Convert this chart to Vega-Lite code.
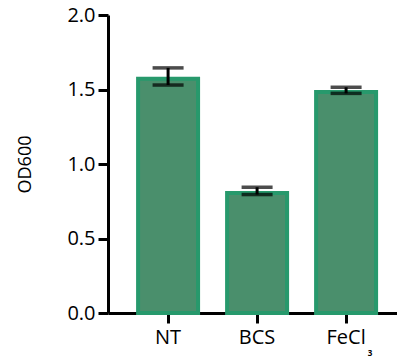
{
  "$schema": "https://vega.github.io/schema/vega-lite/v6.json",
  "width": 289,
  "height": 298,
  "autosize": "none",
  "padding": {"left": 108, "top": 15, "right": 0, "bottom": 47},
  "background": "white",
  "config": {
    "view": {"stroke": null},
    "font": "Open Sans"
  },
  "data": {
    "values": [
      {"group": "NT", "od600": 1.572, "low": 1.53, "high": 1.645},
      {"group": "BCS", "od600": 0.806, "low": 0.795, "high": 0.844},
      {"group": "FeCl3", "od600": 1.484, "low": 1.474, "high": 1.515}
    ]
  },
  "encoding": {
    "x": {
      "field": "group",
      "type": "nominal",
      "sort": ["NT", "BCS", "FeCl3"],
      "scale": {"paddingInner": 0.326, "paddingOuter": 0.2865, "align": 0.59},
      "axis": {
        "title": null,
        "labelAngle": 0,
        "labelExpr": "datum.value == 'FeCl3' ? 'FeCl\u00a0' : datum.value",
        "labelFont": "Open Sans",
        "labelFontSize": 20,
        "labelColor": "black",
        "labelPadding": 4,
        "domainColor": "black",
        "domainWidth": 3,
        "tickColor": "black",
        "tickWidth": 3,
        "tickSize": 10
      }
    }
  },
  "layer": [
    {
      "mark": {"type": "bar", "fill": "#4a8f6c", "stroke": "#27996c", "strokeWidth": 4},
      "encoding": {
        "y": {
          "field": "od600",
          "type": "quantitative",
          "scale": {"domain": [0, 2]},
          "axis": {
            "title": "OD600",
            "titleFont": "Open Sans",
            "titleFontSize": 18,
            "titleFontWeight": "normal",
            "titleColor": "black",
            "titlePadding": 32,
            "values": [0, 0.5, 1, 1.5, 2],
            "format": ".1f",
            "grid": false,
            "labelFont": "Open Sans",
            "labelFontSize": 20,
            "labelColor": "black",
            "labelPadding": 3,
            "domainColor": "black",
            "domainWidth": 3,
            "tickColor": "black",
            "tickWidth": 3,
            "tickSize": 10
          }
        }
      }
    },
    {
      "mark": {"type": "rule", "color": "black", "strokeWidth": 3},
      "encoding": {
        "y": {"field": "low", "type": "quantitative"},
        "y2": {"field": "high"}
      }
    },
    {
      "mark": {"type": "tick", "color": "black", "thickness": 3.5, "size": 31, "orient": "horizontal"},
      "encoding": {"y": {"field": "low", "type": "quantitative"}}
    },
    {
      "mark": {"type": "tick", "color": "black", "thickness": 3.5, "size": 31, "orient": "horizontal"},
      "encoding": {"y": {"field": "high", "type": "quantitative"}}
    },
    {
      "data": {"values": [{"group": "FeCl3", "sub": "3", "base": 0}]},
      "mark": {"type": "text", "font": "Open Sans", "fontSize": 8, "fontWeight": "bold", "color": "black", "dx": 24, "dy": 41, "baseline": "middle", "align": "center"},
      "encoding": {
        "y": {"field": "base", "type": "quantitative"},
        "text": {"field": "sub"}
      }
    }
  ]
}
